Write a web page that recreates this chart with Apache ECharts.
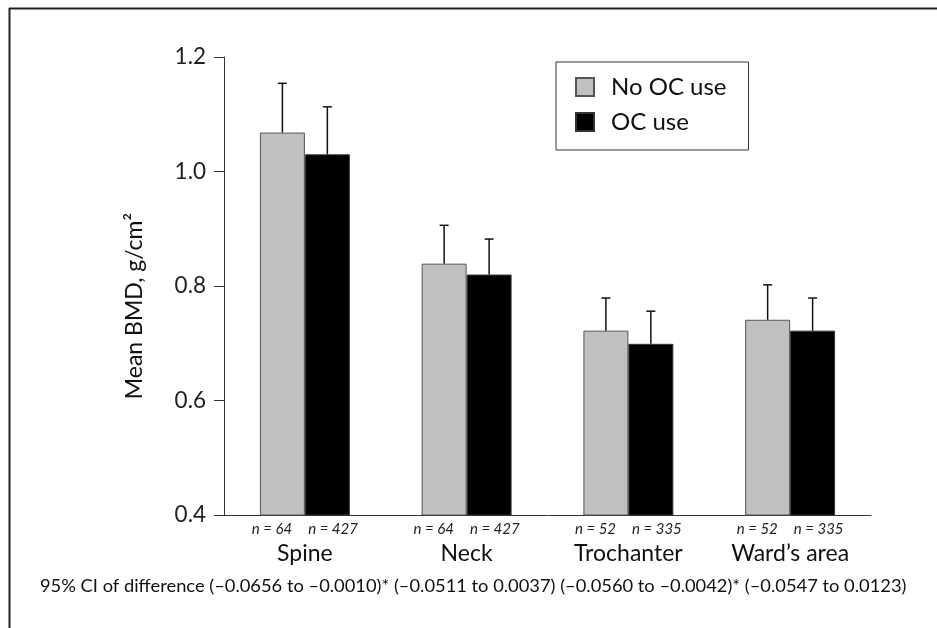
<!DOCTYPE html>
<html>
<head>
<meta charset="utf-8">
<script src="https://cdn.jsdelivr.net/npm/echarts@6/dist/echarts.min.js"></script>
<style>
  html, body { margin: 0; padding: 0; background: #fff; }
  #main { width: 937px; height: 628px; }
</style>
</head>
<body>
<div id="main"></div>
<script>
// 数据
var categories = ["Spine", "Neck", "Trochanter", "Ward\u2019s area"];
var noOcMean = [1.068, 0.839, 0.722, 0.741];
var ocMean = [1.030, 0.820, 0.699, 0.722];
// 误差线上端
var noOcUpper = [1.154, 0.906, 0.779, 0.802];
var ocUpper = [1.113, 0.882, 0.756, 0.779];
var nNoOc = [64, 64, 52, 52];
var nOc = [427, 427, 335, 335];
var yTicks = [0.4, 0.6, 0.8, 1.0, 1.2];
var yTitle = 'Mean BMD, g/cm\u00b2';
var ciText = "95% CI of difference (\u20130.0656 to \u20130.0010)* (\u20130.0511 to 0.0037) (\u20130.0560 to \u20130.0042)* (\u20130.0547 to 0.0123)";

var FONT = "Lato, 'Open Sans', sans-serif";
var CAT_GAP = 0.444;

// 误差线，side: -1 左边柱子，1 右边柱子
function errorSeries(name, means, uppers, side) {
    var data = [];
    for (var i = 0; i < means.length; i++) {
        data.push([i, means[i], uppers[i]]);
    }
    return {
        name: name + " err",
        type: 'custom',
        silent: true,
        z: 5,
        data: data,
        renderItem: function(params, api) {
            var band = api.size([1, 0])[0];
            var barW = band * (1 - CAT_GAP) / 2;
            var base = api.coord([api.value(0), api.value(1)]);
            var top = api.coord([api.value(0), api.value(2)]);
            var x = base[0] + side * barW / 2;
            var cap = 4.5;
            var st = { stroke: '#111', lineWidth: 1.5 };
            return {
                type: 'group',
                children: [
                    { type: 'line', shape: { x1: x, y1: base[1], x2: x, y2: top[1] }, style: st },
                    { type: 'line', shape: { x1: x - cap, y1: top[1], x2: x + cap, y2: top[1] }, style: st }
                ]
            };
        }
    };
}

var myChart = echarts.init(document.getElementById('main'));

var option = {
    animation: false,
    backgroundColor: '#fff',
    textStyle: { fontFamily: FONT },
    grid: { left: 224, right: 66, top: 57, bottom: 113 },
    legend: {
        orient: 'vertical',
        left: 556,
        top: 62,
        data: ['No OC use', 'OC use'],
        borderColor: '#333',
        borderWidth: 1,
        padding: [13, 22, 16, 19],
        itemGap: 11,
        itemWidth: 18,
        itemHeight: 18,
        icon: 'rect',
        textStyle: { fontSize: 24, color: '#111', fontFamily: FONT, padding: [0, 0, 0, 12], lineHeight: 24 }
    },
    xAxis: {
        type: 'category',
        data: categories,
        axisLine: { lineStyle: { color: '#333', width: 1 } },
        axisTick: { show: false },
        axisLabel: {
            interval: 0,
            margin: 5,
            formatter: function(value, idx) {
                return '{n|n = ' + nNoOc[idx] + '}{g|}{n|n = ' + nOc[idx] + '}\n{c|' + value + '}';
            },
            rich: {
                n: { fontSize: 15, fontStyle: 'italic', color: '#222', fontFamily: FONT, lineHeight: 19 },
                g: { width: 16 },
                c: { fontSize: 23, color: '#111', fontFamily: FONT, lineHeight: 30 }
            }
        }
    },
    yAxis: {
        type: 'value',
        min: yTicks[0],
        max: yTicks[yTicks.length - 1],
        interval: 0.2,
        splitLine: { show: false },
        axisLine: { show: true, lineStyle: { color: '#333', width: 1 } },
        axisTick: { show: true, length: 10, lineStyle: { color: '#333' } },
        axisLabel: {
            margin: 18,
            fontSize: 22.5,
            color: '#222',
            fontFamily: FONT,
            formatter: function(v) { return v.toFixed(1); }
        }
    },
    series: [
        {
            name: 'No OC use',
            type: 'bar',
            data: noOcMean,
            barGap: 0,
            barCategoryGap: (CAT_GAP * 100) + '%',
            itemStyle: { color: '#c0c0c0', borderColor: '#555', borderWidth: 1 }
        },
        {
            name: 'OC use',
            type: 'bar',
            data: ocMean,
            barGap: 0,
            barCategoryGap: (CAT_GAP * 100) + '%',
            itemStyle: { color: '#000', borderColor: '#333', borderWidth: 1 }
        },
        errorSeries('No OC use', noOcMean, noOcUpper, -1),
        errorSeries('OC use', ocMean, ocUpper, 1)
    ],
    graphic: [
        // 外框：上边和左边
        { type: 'line', shape: { x1: 9, y1: 8.5, x2: 937, y2: 8.5 }, style: { stroke: '#222', lineWidth: 2 } },
        { type: 'line', shape: { x1: 9.5, y1: 8, x2: 9.5, y2: 628 }, style: { stroke: '#222', lineWidth: 2 } },
        // y轴标题，原图比轴中点偏下
        {
            type: 'text',
            x: 135,
            y: 306,
            rotation: Math.PI / 2,
            style: { text: yTitle, fontSize: 23, fill: '#111', fontFamily: FONT, align: 'center', verticalAlign: 'middle' }
        },
        {
            type: 'text',
            x: 40,
            y: 578,
            scaleX: 1.11,
            style: { text: ciText, fontSize: 16.5, fill: '#111', fontFamily: FONT }
        }
    ]
};

myChart.setOption(option);
</script>
</body>
</html>
